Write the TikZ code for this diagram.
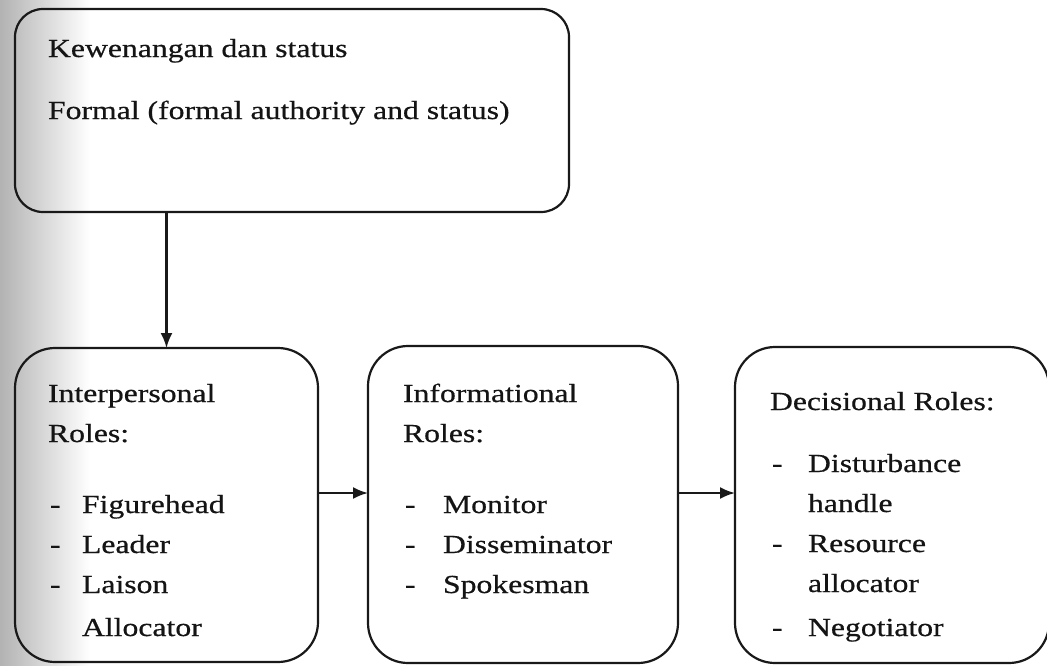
\documentclass[tikz,border=0pt]{standalone}
\usepackage{fontspec}
\setmainfont{Liberation Serif}[FakeStretch=1.22,FakeBold=0.6]
\usetikzlibrary{arrows.meta}
\begin{document}
\begin{tikzpicture}[x=1pt,y=-1pt,
  box/.style={draw=black!90, line width=2.2pt, rounded corners=#1, inner sep=0pt, outer sep=0pt},
  txt/.style={anchor=base west, inner sep=0pt, outer sep=0pt, font=\fontsize{26}{30}\selectfont, text=black!92},
  arr/.style={-{Latex[length=15pt,width=12pt]}, line width=2.2pt, draw=black!90}]
\useasboundingbox (0,0) rectangle (1047,665);
\clip (0,0) rectangle (1047,665);
\shade[left color=black!30, right color=white] (0,0) rectangle (90,665);
% boxes
\node[box=28pt, minimum width=554pt, minimum height=203pt] (top) at (292,110.5) {};
\node[box=40pt, minimum width=303pt, minimum height=314pt] (ip) at (166.5,505) {};
\node[box=40pt, minimum width=310pt, minimum height=317pt] (inf) at (523,504.5) {};
\node[box=40pt, minimum width=314pt, minimum height=316pt] (dec) at (892,505) {};
% connectors
\coordinate (ya) at (0,493);
\draw[arr] (top.south -| ip.north) -- (ip.north);
\draw[arr] (ip.east |- ya) -- (inf.west |- ya);
\draw[arr] (inf.east |- ya) -- (dec.west |- ya);
% top text
\node[txt] (t1) at (48,57) {Kewenangan dan status};
\node[txt] (t2) at (48,119) {Formal (formal authority and status)};
% interpersonal
\node[txt] (a1) at (48,402) {Interpersonal};
\node[txt] (a2) at (48,442) {Roles:};
\node[txt] (a3d) at (50,513) {-};
\node[txt] (a3) at (82,513) {Figurehead};
\node[txt] (a4d) at (50,553) {-};
\node[txt] (a4) at (82,553) {Leader};
\node[txt] (a5d) at (50,593) {-};
\node[txt] (a5) at (82,593) {Laison};
\node[txt] (a6) at (82,636) {Allocator};
% informational
\node[txt] (b1) at (403,402) {Informational};
\node[txt] (b2) at (403,442) {Roles:};
\node[txt] (b3d) at (405,513) {-};
\node[txt] (b3) at (443,513) {Monitor};
\node[txt] (b4d) at (405,553) {-};
\node[txt] (b4) at (443,553) {Disseminator};
\node[txt] (b5d) at (405,593) {-};
\node[txt] (b5) at (443,593) {Spokesman};
% decisional
\node[txt] (c1) at (770,410) {Decisional Roles:};
\node[txt] (c2d) at (772,472) {-};
\node[txt] (c2) at (808,472) {Disturbance};
\node[txt] (c3) at (808,512) {handle};
\node[txt] (c4d) at (772,552) {-};
\node[txt] (c4) at (808,552) {Resource};
\node[txt] (c5) at (808,592) {allocator};
\node[txt] (c6d) at (772,636) {-};
\node[txt] (c6) at (808,636) {Negotiator};
\end{tikzpicture}
\end{document}
